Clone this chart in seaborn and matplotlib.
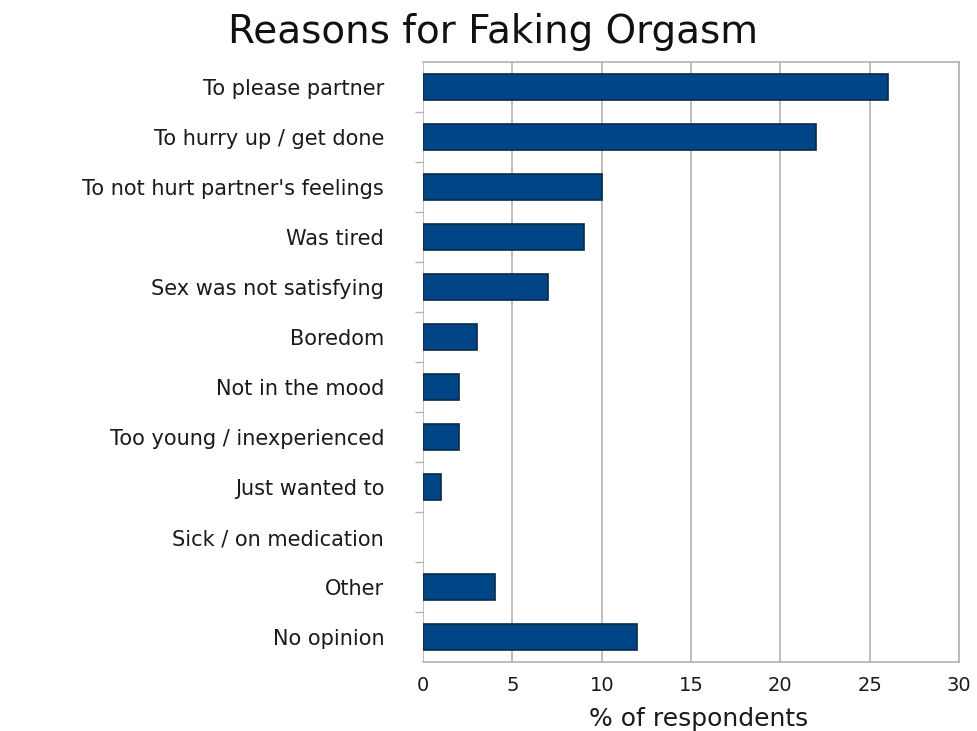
import pandas as pd
import matplotlib.pyplot as plt
import seaborn as sns

reasons = [
    "To please partner",
    "To hurry up / get done",
    "To not hurt partner's feelings",
    "Was tired",
    "Sex was not satisfying",
    "Boredom",
    "Not in the mood",
    "Too young / inexperienced",
    "Just wanted to",
    "Sick / on medication",
    "Other",
    "No opinion",
]
percent = [26, 22, 10, 9, 7, 3, 2, 2, 1, 0, 4, 12]

df = pd.DataFrame({"reason": reasons, "percent": percent})

sns.set_style("white")
plt.rcParams["font.family"] = ["DejaVu Sans"]

fig = plt.figure(figsize=(9.77, 7.31), dpi=100)
ax = fig.add_axes([0.433, 0.0944, 0.5486, 0.8206])

sns.barplot(data=df, x="percent", y="reason", color="#004586", edgecolor="#0a2a4a",
            linewidth=1.2, width=0.52, saturation=1, ax=ax)
# no outline for empty bars
for p in ax.patches:
    if p.get_width() == 0:
        p.set_linewidth(0)

ax.set_xlim(0, 30)
ax.set_xticks(range(0, 31, 5))
ax.set_yticks([i - 0.5 for i in range(1, len(reasons))], minor=True)
ax.grid(axis="x", color="#b3b3b3", linewidth=1.2)
ax.set_axisbelow(True)
for s in ax.spines.values():
    s.set_color("#b3b3b3")
    s.set_linewidth(1.2)
ax.spines["left"].set_visible(False)

ax.tick_params(axis="y", which="major", length=0, pad=28, labelsize=15, labelcolor="#1a1a1a")
ax.tick_params(axis="y", which="minor", length=6, width=1, color="#b3b3b3", left=True)
ax.tick_params(axis="x", length=0, pad=10, labelsize=14, labelcolor="#1a1a1a")
ax.set_ylabel("")
ax.set_xlabel("% of respondents", fontsize=18, color="#1a1a1a", labelpad=6)
ax.xaxis.set_label_coords(0.515, -0.075)

fig.suptitle("Reasons for Faking Orgasm", fontsize=28, x=0.505, y=0.956,
             va="center", color="#111111")

fig.savefig("out.png", dpi=100)
